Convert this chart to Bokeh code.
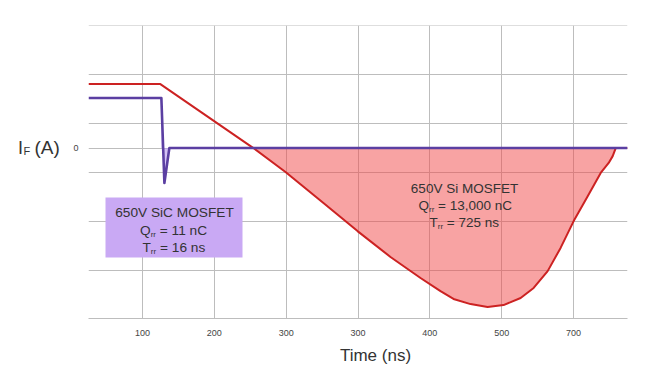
from bokeh.plotting import figure
from bokeh.models import Range1d, FixedTicker, Label, BoxAnnotation
from bokeh.embed import file_html
from bokeh.resources import INLINE

# ---- data ----
sic_t = [25, 126.4, 130.6, 137.5, 775]
sic_i = [2.05, 2.05, -1.43, 0, 0]

si_t = [25, 125, 254.5, 299.1, 351.9, 399.3, 445.2, 487.0, 514.8, 532.9, 556.6,
        580.3, 602.5, 626.3, 644.4, 663.9, 681.9, 700.1, 719.6, 737.7, 748.8,
        754.4, 758.6, 775]
si_i = [2.62, 2.62, 0, -0.98, -2.25, -3.40, -4.46, -5.32, -5.86, -6.18, -6.39,
        -6.51, -6.43, -6.14, -5.73, -5.04, -4.09, -2.99, -1.97, -1.02, -0.61,
        -0.33, 0, 0]

tick_pos = [100, 200, 300, 400, 500, 600, 700]
tick_labels = ["100", "200", "300", "300", "400", "500", "700"]
grid_i = [-5, -3, -1, 0, 1, 3, 5]

FONT = "Liberation Sans"
TXT = "#333333"
RED = "#CC2222"
PURPLE = "#5B3FA2"
GRID = "#BDBDBD"

ML, MT, W, H = 88, 25, 660, 372
MR, MB = 33, 54
X0, X1 = 25, 775
Y0, Y1 = -6.98, 5.02

p = figure(width=W, height=H, output_backend="svg", toolbar_location=None,
           x_range=Range1d(X0, X1), y_range=Range1d(Y0, Y1),
           min_border_left=ML, min_border_right=MR, min_border_top=MT,
           min_border_bottom=MB)
p.outline_line_color = None
p.background_fill_color = "white"
p.border_fill_color = "white"

# axes
xa = p.xaxis[0]
xa.ticker = FixedTicker(ticks=tick_pos)
xa.major_label_overrides = {t: l for t, l in zip(tick_pos, tick_labels)}
xa.axis_line_color = GRID
xa.major_tick_line_color = None
xa.minor_tick_line_color = None
xa.major_tick_out = 0
xa.major_label_standoff = 11
xa.major_label_text_font = FONT
xa.major_label_text_font_size = "9px"
xa.major_label_text_color = "#444444"

ya = p.yaxis[0]
ya.ticker = FixedTicker(ticks=[0])
ya.axis_line_color = None
ya.major_tick_line_color = None
ya.minor_tick_line_color = None
ya.major_tick_out = 0
ya.major_label_standoff = 10
ya.major_label_text_font = FONT
ya.major_label_text_font_size = "9px"
ya.major_label_text_color = "#444444"

p.xgrid.ticker = FixedTicker(ticks=tick_pos)
p.ygrid.ticker = FixedTicker(ticks=grid_i)
p.xgrid.grid_line_color = GRID
p.ygrid.grid_line_color = GRID
p.xgrid.grid_line_width = 1
p.ygrid.grid_line_width = 1

# Si fill & line
n0, n1 = 2, len(si_t) - 1
p.varea(x=si_t[n0:n1], y1=[0] * (n1 - n0), y2=si_i[n0:n1],
        fill_color="#F24848", fill_alpha=0.5)
p.line(si_t, si_i, line_color=RED, line_width=2, line_join="round")

# SiC spike fill & line
p.varea(x=sic_t[1:4], y1=[0, 0, 0], y2=sic_i[1:4], fill_color="#B89AF0", fill_alpha=0.6)
p.line(sic_t, sic_i, line_color=PURPLE, line_width=2.6, line_join="round")

# canvas pixel -> data coordinates (frame spans ML..W-MR, MT..H-MB)
FW, FH = W - ML - MR, H - MT - MB


def dx(px):
    return X0 + (px - ML) / FW * (X1 - X0)


def dy(py):
    return Y1 - (py - MT) / FH * (Y1 - Y0)


p.add_layout(BoxAnnotation(left=dx(105), right=dx(242), top=dy(197), bottom=dy(257),
                           fill_color="#C9A9F4", fill_alpha=1.0, line_color=None,
                           level="overlay"))


def lab(px, py, text, size, align="left", place="center"):
    lb = Label(x=dx(px), y=dy(py), text=text, text_font=FONT,
               text_font_size=f"{size}px", text_color=TXT,
               text_align=align, text_baseline="middle")
    if place == "center":
        lb.level = "overlay"
        p.add_layout(lb)
    else:
        p.add_layout(lb, place)


NB = "\u00a0"


def sub_line(px, py, main, rest, size):
    wmain = {"Q": 0.778, "T": 0.611}[main] * size
    lab(px, py, main, size)
    lab(px + wmain, py + 4, "rr", 8)
    lab(px + wmain + 5.3, py, rest.replace(" ", NB), size)


# SiC box text
lab(174, 212, "650V SiC MOSFET", 13.7, align="center")
sub_line(139.5, 229.5, "Q", " = 11 nC", 13.7)
sub_line(142, 246.5, "T", " = 16 ns", 13.7)

# Si text
lab(464, 188, "650V Si MOSFET", 13.5, align="center")
sub_line(418, 205, "Q", " = 13,000 nC", 13.5)
sub_line(429, 222, "T", " = 725 ns", 13.5)

# axis titles (placed in side panels so they are not clipped to the frame)
lab(17.5, 147, "I", 18, place="left")
lab(23, 150.5, "F", 11, place="left")
lab(34, 147, "(A)", 19, place="left")
lab(375, 355, "Time (ns)", 17, align="center", place="below")

open("out.html", "w").write(file_html(p, INLINE))
